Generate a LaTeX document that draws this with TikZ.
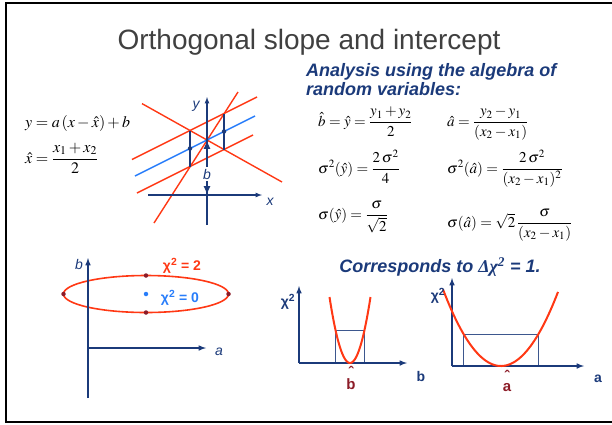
\documentclass[tikz,border=0pt]{standalone}
\usepackage{amsmath}
\usepackage{mathptmx}
\usepackage{fontspec}
\setmainfont{Liberation Serif}
\setsansfont{Liberation Sans}
\usetikzlibrary{arrows,positioning}
\definecolor{navy}{RGB}{27,58,122}
\definecolor{redc}{RGB}{255,56,20}
\definecolor{bluec}{RGB}{40,125,250}
\definecolor{darkred}{RGB}{140,28,40}
\definecolor{titlegray}{RGB}{64,64,64}

\begin{document}
\begin{tikzpicture}[x=1pt,y=-1pt,>=latex,
  axis/.style={navy,line width=1.5pt},
  redline/.style={redc,line width=1.4pt},
  bar/.style={navy,line width=2.5pt},
  spot/.style={circle,fill=#1,inner sep=0pt,minimum size=4.5pt},
  lab/.style={navy,font=\fontsize{14}{16}\selectfont\sffamily\itshape},
  blab/.style={font=\fontsize{14}{16}\selectfont\sffamily\bfseries},
  eq/.style={anchor=base west,inner sep=0pt,font=\fontsize{15}{18}\selectfont},
  hatlab/.style={darkred,align=center,inner sep=0pt,font=\fontsize{15}{10}\selectfont\sffamily\bfseries},
  box/.style={navy!85,line width=0.8pt}]
\useasboundingbox (0,0) rectangle (612,424);
\draw[line width=2pt] (612,3) -- (6,3) -- (6,422) -- (612,422);

\node[titlegray,font=\fontsize{28}{32}\selectfont\sffamily] (title) at (309,42) {Orthogonal slope and intercept};
\node[navy,anchor=north west,align=left,inner sep=0pt,font=\fontsize{18}{19.5}\selectfont\sffamily\bfseries\itshape] (analysis) at (306,63) {Analysis using the algebra of\\random variables:};

% model and mean x
\node[eq,font=\fontsize{16}{18}\selectfont] (model) at (25,127) {$y=a\,(x-\hat x)+b$};
\node[eq,font=\fontsize{16}{18}\selectfont] (xhat) at (25,163) {$\hat x=\dfrac{x_1+x_2}{2}$};

% lines through the two points
\coordinate (C) at (207,140);
\coordinate (ur1) at (132,159.5); \coordinate (ur2) at (257,97);
\coordinate (lr1) at (137,193); \coordinate (lr2) at (253,135);
\coordinate (st1) at (154,223); \coordinate (st2) at (238,92);
\coordinate (de1) at (142,103.6); \coordinate (de2) at (282,182);
\coordinate (bl1) at (135,176); \coordinate (bl2) at (255,116);
\draw[redline] (ur1) -- (ur2);
\draw[redline] (lr1) -- (lr2);
\draw[redline] (st1) -- (st2);
\draw[redline] (de1) -- (de2);
\draw[bluec,line width=1.4pt] (bl1) -- (bl2);

\coordinate (xa0) at (148,195); \coordinate (xa1) at (262,195);
\coordinate (ya0) at (207,225); \coordinate (ya1) at (207,97);
\draw[navy,line width=1.2pt,->] (xa0) -- (xa1);
\draw[navy,line width=1.2pt,->] (ya0) -- (ya1);
\node[lab] (ylab) at (196,106) {y};
\node[lab] (xlab) at (270,202) {x};
\node[lab,fill=white,inner sep=2pt] (blab) at (207,174) {b};
\coordinate (bfoot) at (207,195);
\draw[navy,line width=2pt,->] (blab) -- (C);
\draw[navy,line width=2pt,->] (blab) -- (bfoot);

\coordinate (p1u) at (190,130.5); \coordinate (p1d) at (190,166.5);
\coordinate (p2u) at (224,113.5); \coordinate (p2d) at (224,149.5);
\draw[bar] (p1u) -- (p1d);
\draw[bar] (p2u) -- (p2d);
\node[spot=navy] (pt1) at (190,148.5) {};
\node[spot=navy] (pt2) at (224,131.5) {};

% equations
\node[eq] (bhat) at (318,126) {$\hat b=\hat y=\dfrac{y_1+y_2}{2}$};
\node[eq] (ahat) at (447,126) {$\hat a=\dfrac{y_2-y_1}{(x_2-x_1)}$};
\node[eq] (vary) at (318,173) {$\sigma^2(\hat y)=\dfrac{2\,\sigma^2}{4}$};
\node[eq] (vara) at (447,173) {$\sigma^2(\hat a)=\dfrac{2\,\sigma^2}{(x_2-x_1)^2}$};
\node[eq] (sigy) at (318,219) {$\sigma(\hat y)=\dfrac{\sigma}{\sqrt{2}}$};
\node[eq] (siga) at (447,227) {$\sigma(\hat a)=\sqrt{2}\,\dfrac{\sigma}{(x_2-x_1)}$};

% chi2 contour
\coordinate (E) at (146,294);
\draw[redc,line width=1.6pt] (E) ellipse [x radius=82.5pt,y radius=18.5pt];
\coordinate (ea0) at (88,348);
\coordinate (ea1) at (206,348); \coordinate (ea2) at (88,258); \coordinate (ea3) at (88,398);
\draw[axis,->] (ea0) -- (ea1);
\draw[axis,->] (ea3) -- (ea2);
\node[spot=darkred] (eL) at (63.5,294) {};
\node[spot=darkred] (eR) at (228.5,294) {};
\node[spot=darkred] (eT) at (146,275.5) {};
\node[spot=darkred] (eB) at (146,312.5) {};
\node[spot=bluec] (eC) at (E) {};
\node[lab] (elb) at (79,264) {b};
\node[lab] (ela) at (219,352) {a};
\node[blab,redc] (chi2) at (182,266) {χ\textsuperscript{2} = 2};
\node[blab,bluec] (chi0) at (180,298) {χ\textsuperscript{2} = 0};

\node[navy,font=\fontsize{18}{20}\selectfont\sffamily\bfseries\itshape] (corr) at (440,267) {Corresponds to {\rmfamily Δχ\textsuperscript{2}} = 1.};

% chi2 against b
\coordinate (cb0) at (299,363); \coordinate (cb1) at (407,363); \coordinate (cb2) at (299,286);
\draw[box] (335.5,330) rectangle (364.5,363);
\draw[axis,->] (cb0) -- (cb1);
\draw[axis,->] (cb0) -- (cb2);
\draw[redc,line width=2pt] plot[domain=-20.5:20.5,samples=40] ({350+\x},{363-0.157*\x*\x});
\node[blab,navy] (cby) at (288,302) {χ\textsuperscript{2}};
\node[blab,navy] (cbx) at (421,376) {b};
\node[hatlab] (cbh) at (351,378) {ˆ\\b};

% chi2 against a
\coordinate (ca0) at (452,366); \coordinate (ca1) at (584,366); \coordinate (ca2) at (452,278);
\draw[box] (463.5,334) rectangle (538.5,366);
\draw[axis,->] (ca0) -- (ca1);
\draw[axis,->] (ca0) -- (ca2);
\draw[redc,line width=2pt] plot[domain=-58:57,samples=60] ({501+\x},{366-0.0228*\x*\x});
\node[blab,navy] (cay) at (438,296) {χ\textsuperscript{2}};
\node[blab,navy] (cax) at (598,379) {a};
\node[hatlab] (cah) at (507,381) {ˆ\\a};
\end{tikzpicture}
\end{document}
